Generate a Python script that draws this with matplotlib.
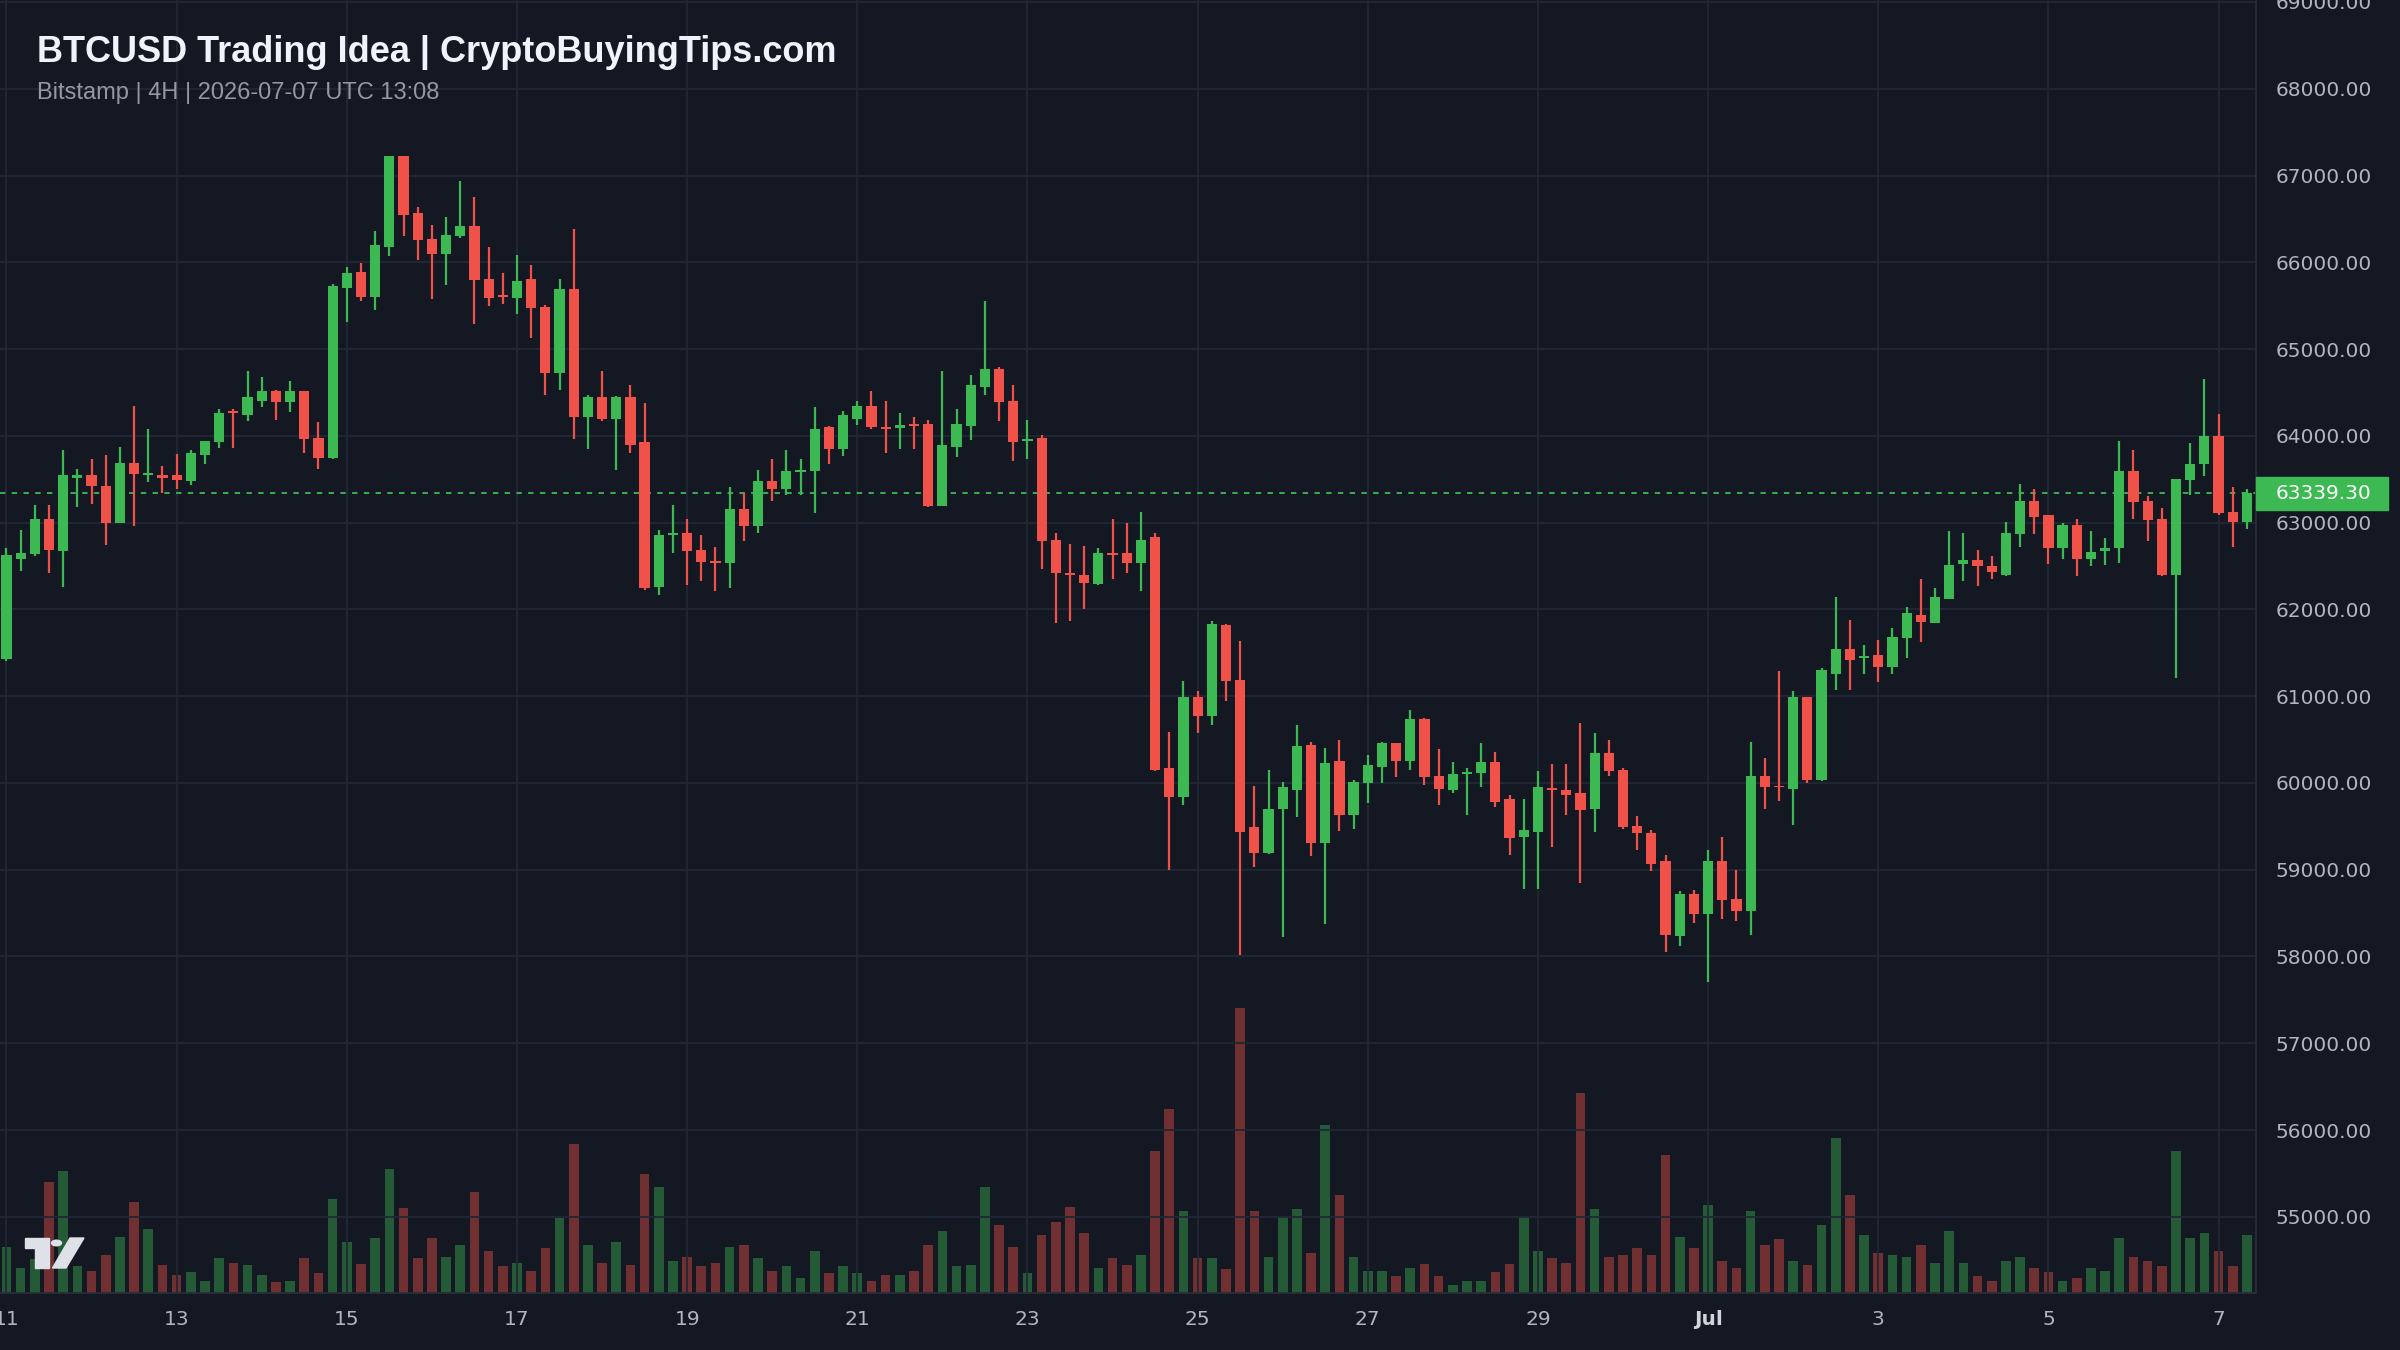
import numpy as np
import matplotlib.pyplot as plt
from matplotlib.patches import Rectangle, Polygon, Circle
from matplotlib.transforms import blended_transform_factory

# BTCUSD 4H candles (Bitstamp), 11 jun 00:00 -> 7 jul 08:00
opens = [61430, 62582, 62633, 63038, 62677, 63519, 63544, 63424, 63000, 63684,
         63551, 63544, 63551, 63475, 63785, 63930, 64285, 64241, 64399, 64513,
         64386, 64513, 63981, 63741, 65703, 65892, 65601, 66177, 67226, 66563,
         66266, 66095, 66298, 66424, 65804, 65620, 65589, 65804, 65487, 64728,
         65696, 64222, 64450, 64196, 64450, 63924, 62260, 62855, 62880, 62690,
         62557, 62538, 63152, 62956, 63475, 63392, 63582, 63595, 64101, 63848,
         64196, 64348, 64101, 64095, 64133, 64133, 63196, 63867, 64114, 64563,
         64766, 64399, 63943, 63981, 62804, 62424, 62393, 62297, 62652, 62645,
         62532, 62835, 60171, 59836, 60987, 60766, 61817, 61190, 59494, 59190,
         59696, 59924, 60443, 59304, 60253, 59633, 60000, 60184, 60456, 60253,
         60741, 60083, 59918, 60101, 60120, 60247, 59810, 59373, 59437, 59943,
         59918, 59880, 59696, 60342, 60152, 59506, 59418, 59101, 58241, 58722,
         58494, 59095, 58658, 58525, 60083, 59968, 59930, 60987, 60038, 61260,
         61538, 61437, 61475, 61342, 61665, 61930, 61848, 62120, 62525, 62570,
         62500, 62393, 62867, 63247, 63083, 62703, 62968, 62582, 62677, 62703,
         63595, 63247, 63038, 62393, 63487, 63671, 64000, 63127, 63006]
highs = [62709, 62918, 63203, 63203, 63842, 63620, 63734, 63779, 63867, 64348,
         64076, 63658, 63791, 63842, 63945, 64304, 64310, 64747, 64677, 64532,
         64633, 64520, 64165, 65753, 65949, 65987, 66361, 67230, 67230, 66633,
         66430, 66519, 66937, 66753, 66171, 65880, 66089, 65968, 65513, 65810,
         66386, 64475, 64747, 64455, 64582, 64380, 62918, 63203, 63038, 62855,
         62715, 63405, 63342, 63601, 63734, 63842, 63734, 64329, 64110, 64291,
         64399, 64513, 64399, 64259, 64215, 64184, 64747, 64310, 64696, 65551,
         64791, 64582, 64184, 64006, 62880, 62753, 62734, 62709, 63038, 62994,
         63127, 62880, 60589, 61171, 61057, 61861, 61830, 61633, 59968, 60146,
         60013, 60665, 60468, 60405, 60500, 60038, 60317, 60468, 60460, 60842,
         60750, 60392, 60247, 60171, 60456, 60361, 59861, 59810, 60139, 60222,
         60222, 60690, 60576, 60500, 60177, 59620, 59462, 59165, 58753, 58772,
         59228, 59373, 59000, 60475, 60291, 61285, 61057, 60995, 61323, 62139,
         61880, 61589, 61652, 61791, 62026, 62348, 62247, 62899, 62880, 62690,
         62620, 63013, 63449, 63386, 63090, 62994, 63038, 62899, 62823, 63937,
         63842, 63310, 63171, 63505, 63918, 64652, 64253, 63405, 63386]
lows = [61400, 62437, 62620, 62424, 62260, 63184, 63215, 62741, 62990, 62956,
        63468, 63342, 63392, 63437, 63677, 63855, 63861, 64177, 64336, 64184,
        64272, 63804, 63620, 63735, 65310, 65557, 65449, 66070, 66298, 66025,
        65582, 65741, 66279, 65285, 65494, 65525, 65399, 65127, 64475, 64525,
        63968, 63848, 64177, 63601, 63797, 62222, 62171, 62652, 62285, 62329,
        62215, 62247, 62791, 62880, 63247, 63323, 63323, 63108, 63671, 63766,
        64127, 64083, 63804, 63848, 63848, 63177, 63190, 63753, 63949, 64475,
        64177, 63715, 63734, 62468, 61842, 61867, 62000, 62285, 62354, 62424,
        62215, 60140, 58999, 59747, 60576, 60665, 60943, 58013, 59032, 59185,
        58228, 59608, 59158, 58380, 59449, 59468, 59766, 60000, 60070, 60146,
        59981, 59747, 59880, 59627, 59949, 59722, 59171, 58779, 58779, 59260,
        59627, 58842, 59437, 60083, 59468, 59228, 58987, 58057, 58120, 58386,
        57709, 58431, 58405, 58247, 59696, 59791, 59513, 60000, 60026, 61070,
        61070, 61253, 61158, 61253, 61437, 61620, 61845, 62115, 62329, 62266,
        62354, 62390, 62722, 62867, 62519, 62582, 62380, 62500, 62513, 62538,
        63044, 62791, 62390, 61215, 63323, 63532, 63089, 62722, 62930]
closes = [62627, 62645, 63038, 62684, 63544, 63551, 63424, 63000, 63684, 63557,
          63570, 63519, 63487, 63797, 63937, 64259, 64266, 64450, 64513, 64386,
          64513, 63968, 63741, 65728, 65873, 65601, 66203, 67226, 66551, 66253,
          66095, 66310, 66424, 65791, 65589, 65595, 65779, 65475, 64728, 65696,
          64222, 64450, 64196, 64450, 63899, 62247, 62855, 62880, 62677, 62544,
          62538, 63152, 62956, 63475, 63392, 63595, 63608, 64076, 63848, 64241,
          64348, 64101, 64076, 64120, 64114, 63196, 63892, 64133, 64582, 64766,
          64386, 63930, 63968, 62791, 62424, 62393, 62310, 62645, 62627, 62532,
          62804, 60152, 59836, 60987, 60766, 61829, 61177, 59437, 59190, 59696,
          59949, 60430, 59304, 60228, 59627, 60013, 60209, 60456, 60253, 60734,
          60064, 59930, 60101, 60127, 60247, 59779, 59367, 59462, 59949, 59918,
          59861, 59684, 60342, 60133, 59487, 59424, 59070, 58247, 58722, 58494,
          59095, 58652, 58525, 60083, 59956, 59949, 60987, 60038, 61298, 61538,
          61412, 61462, 61342, 61677, 61956, 61855, 62139, 62506, 62570, 62500,
          62430, 62880, 63247, 63070, 62703, 62968, 62582, 62665, 62709, 63595,
          63234, 63025, 62393, 63500, 63677, 64000, 63108, 63006, 63339.30]
volumes = [139, 74, 102, 332, 367, 82, 67, 115, 169, 272,
           193, 85, 55, 62, 37, 104, 91, 84, 55, 32,
           37, 104, 61, 283, 152, 87, 164, 373, 254, 104,
           164, 109, 145, 302, 127, 80, 91, 67, 134, 225,
           447, 145, 91, 152, 85, 356, 319, 97, 109, 80,
           91, 139, 145, 104, 67, 80, 44, 127, 61, 80,
           61, 37, 55, 55, 67, 145, 187, 80, 85, 319,
           205, 139, 61, 175, 212, 259, 181, 74, 104, 85,
           115, 427, 552, 247, 104, 104, 72, 857, 247, 109,
           229, 252, 120, 505, 295, 109, 67, 67, 50, 74,
           87, 50, 25, 37, 37, 62, 87, 229, 127, 104,
           91, 601, 252, 109, 115, 134, 115, 415, 169, 134,
           265, 97, 74, 247, 145, 163, 97, 85, 205, 464,
           295, 175, 120, 115, 109, 145, 91, 187, 91, 50,
           37, 97, 109, 74, 62, 37, 44, 74, 67, 164,
           109, 97, 80, 427, 164, 181, 127, 80, 175]

# x axis: candle index of every second day
day_ticks = [0, 12, 24, 36, 48, 60, 72, 84, 96, 108, 120, 132, 144, 156]
day_labels = ["11", "13", "15", "17", "19", "21", "23", "25", "27", "29", "Jul", "3", "5", "7"]
price_ticks = list(range(55000, 70000, 1000))

title = "BTCUSD Trading Idea | CryptoBuyingTips.com"
subtitle = "Bitstamp | 4H | 2026-07-07 UTC 13:08"

bg = "#141822"
grid = "#222735"
green = "#3cb952"
red = "#f0524a"
txt = "#b2b5be"
W, H = 2400, 1350

o, h, l, c = map(np.array, (opens, highs, lows, closes))
x = np.arange(len(o))
up = c >= o
col = np.where(up, green, red)

fig = plt.figure(figsize=(W / 100, H / 100), dpi=100, facecolor=bg)
ax = fig.add_axes([0, 57 / H, 2256 / W, 1293 / H])
vax = ax.twinx()

# volume behind the candles
vax.bar(x, volumes, width=0.68, color=col, alpha=0.42, linewidth=0)
vax.set_ylim(0, max(volumes) * 4.53)
vax.set_yticks([])
vax.set_facecolor(bg)
for s in vax.spines.values():
    s.set_visible(False)
ax.set_zorder(vax.get_zorder() + 1)
ax.patch.set_visible(False)

# candles
ax.vlines(x, l, h, colors=col, lw=1.6, zorder=3)
body = np.maximum(np.abs(c - o), 18)
ax.bar(x, body, bottom=np.minimum(o, c), width=0.72, color=col, linewidth=0, zorder=4)

ax.set_xlim(-0.458, 158.64)
ax.set_ylim(54122, 69023)
ax.set_xticks(day_ticks)
ax.set_xticklabels(day_labels)
ax.set_yticks(price_ticks)
ax.set_yticklabels([f"{p:.2f}" for p in price_ticks])
ax.yaxis.tick_right()
ax.tick_params(axis="both", length=0, colors=txt, labelsize=14.5)
ax.tick_params(axis="x", pad=12)
ax.tick_params(axis="y", pad=14)
for lab in ax.get_xticklabels():
    if lab.get_text() == "Jul":
        lab.set_fontweight("bold")
        lab.set_color("#d1d4dc")
ax.grid(True, color=grid, lw=1.3)
ax.set_axisbelow(True)
for k, s in ax.spines.items():
    s.set_visible(k in ("right", "bottom"))
    s.set_color("#2a2e39")
    s.set_linewidth(1.3)

# last price line + label
last = c[-1]
ax.axhline(last, color=green, lw=1.3, ls=(0, (3, 3.5)), zorder=2)
tr = blended_transform_factory(ax.transAxes, ax.transData)
ax.add_patch(Rectangle((1.0, last - 190), 132 / 2256, 380, transform=tr,
                       color=green, clip_on=False, zorder=10))
ax.text(1.0 + 20 / 2256, last, f"{last:.2f}", transform=tr, color="white",
        fontsize=14.5, va="center", ha="left", zorder=11, clip_on=False)

# header
fig.text(37 / W, 1 - 62 / H, title, color="#f0f3fa", fontsize=26, fontweight="bold",
         family="Liberation Sans", va="baseline")
fig.text(37 / W, 1 - 99 / H, subtitle, color="#9598a1", fontsize=17,
         family="Liberation Sans", va="baseline")

# tradingview logo
def px(a, b):
    return (a / W, 1 - b / H)

logo = "#dfe1e8"
fig.add_artist(Polygon([px(25, 1238), px(49, 1238), px(49, 1268), px(35, 1268),
                        px(35, 1248), px(25, 1248)], closed=True,
                       transform=fig.transFigure, color=logo))
fig.add_artist(Circle(px(56.5, 1243), 5 / W, transform=fig.transFigure, color=logo))
fig.add_artist(Polygon([px(52.5, 1268), px(66, 1268), px(84, 1238), px(70, 1238)],
                       closed=True, transform=fig.transFigure, color=logo))

fig.savefig("out.png", dpi=100, facecolor=bg)
